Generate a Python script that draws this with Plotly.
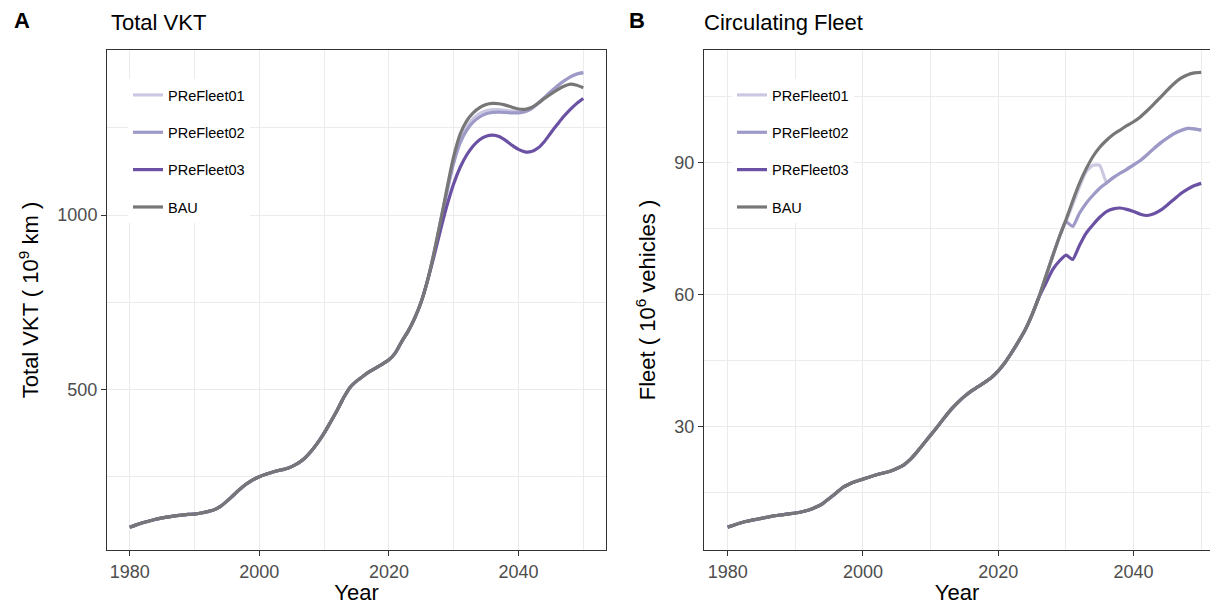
import plotly.graph_objects as go

years = list(range(1980, 2051))
series_names = ["PReFleet01", "PReFleet02", "PReFleet03", "BAU"]
series_colors = ["#CBC9E2", "#9E9AC8", "#6A51A3", "#777777"]

# ---- Panel A: Total VKT (10^9 km), 1980..2050 ----
vkt_bau = [105, 112, 118, 123, 128, 132, 135, 138, 140, 142,
           143, 146, 150, 155, 165, 180, 197, 214, 229, 241,
           250, 257, 263, 268, 272, 279, 289, 303, 323, 347,
           375, 407, 440, 476, 506, 524, 538, 551, 562, 573,
           585, 605, 638, 668, 705, 752, 815, 895, 985, 1080,
           1168, 1232, 1270, 1293, 1308, 1317, 1320, 1319, 1315, 1309,
           1304, 1303, 1308, 1320, 1334, 1347, 1359, 1369, 1375, 1372,
           1365]
vkt_p02 = vkt_bau[:49] + [1070,
           1150, 1207, 1243, 1266, 1281, 1290, 1294, 1295, 1294, 1293,
           1293, 1296, 1305, 1320, 1337, 1354, 1370, 1384, 1396, 1404,
           1408]
vkt_p01 = vkt_bau[:49] + [1072,
           1152, 1213, 1252, 1276, 1291, 1299, 1302, 1302, 1300, 1298,
           1297, 1298, 1305, 1320, 1337, 1354, 1370, 1384, 1396, 1404,
           1408]
vkt_p03 = vkt_bau[:47] + [885, 960, 1030,
           1090, 1137, 1172, 1198, 1216, 1226, 1229, 1225, 1214, 1200,
           1188, 1181, 1182, 1192, 1211, 1236, 1260, 1283, 1303, 1320,
           1334]

# ---- Panel B: Circulating fleet (10^6 vehicles), 1980..2050 ----
fleet_bau = [7.2, 7.7, 8.2, 8.6, 8.9, 9.2, 9.5, 9.8, 10.0, 10.2,
             10.4, 10.7, 11.1, 11.7, 12.5, 13.7, 14.9, 16.2, 17.0, 17.6,
             18.1, 18.6, 19.1, 19.5, 19.9, 20.5, 21.3, 22.6, 24.3, 26.2,
             28.1, 30.0, 32.0, 33.9, 35.5, 36.9, 38.1, 39.1, 40.1, 41.2,
             42.7, 44.6, 46.9, 49.4, 52.1, 55.5, 59.4, 64.0, 68.6, 73.0,
             77.0, 81.3, 85.3, 88.6, 91.4, 93.5, 95.1, 96.4, 97.4, 98.4,
             99.3, 100.4, 101.8, 103.3, 104.9, 106.5, 108.0, 109.2, 110.0, 110.4,
             110.5]
fleet_p02 = fleet_bau[:50] + [
             76.6, 75.5, 78.5, 80.8, 82.6, 84.2, 85.4, 86.6, 87.6, 88.5,
             89.5, 90.5, 91.8, 93.2, 94.5, 95.6, 96.6, 97.3, 97.8, 97.7,
             97.4]
fleet_p01 = fleet_bau[:50] + [
             76.6, 80.5, 84.5, 88.0, 89.4, 89.4, 85.6, 86.6, 87.6, 88.5,
             89.5, 90.5, 91.8, 93.2, 94.5, 95.6, 96.6, 97.3, 97.8, 97.7,
             97.4]
fleet_p03 = fleet_bau[:47] + [62.5, 65.6, 67.6,
             69.0, 68.0, 71.2, 74.0, 75.9, 77.6, 78.9, 79.5, 79.7, 79.4,
             78.9, 78.3, 78.0, 78.4, 79.2, 80.4, 81.7, 83.0, 84.0, 84.8,
             85.3]

vkt_series = [vkt_p01, vkt_p02, vkt_p03, vkt_bau]
fleet_series = [fleet_p01, fleet_p02, fleet_p03, fleet_bau]

FONT = "Liberation Sans, Arial, sans-serif"
W, H = 1210, 605

fig = go.Figure()
for name, col, ys in zip(series_names, series_colors, vkt_series):
    fig.add_trace(go.Scatter(x=years, y=ys, mode="lines", name=name,
                             line=dict(color=col, width=3.2, shape="spline", smoothing=0.8),
                             xaxis="x", yaxis="y", legend="legend",
                             legendgroup="A_" + name))
for name, col, ys in zip(series_names, series_colors, fleet_series):
    fig.add_trace(go.Scatter(x=years, y=ys, mode="lines", name=name,
                             line=dict(color=col, width=3.2, shape="spline", smoothing=0.5),
                             xaxis="x2", yaxis="y2", legend="legend2",
                             legendgroup="B_" + name))

def px_x(p):
    return p / W

def px_y(p):
    return 1 - p / H

grid = "#EBEBEB"
axcol = "#333333"
tickfont = dict(family=FONT, size=18, color="#4D4D4D")
titlefont = dict(family=FONT, size=22, color="black")

def xaxis(dom, rng, mirror=True):
    return dict(domain=dom, range=rng, tick0=1980, dtick=20,
                showgrid=True, gridcolor=grid, gridwidth=1.2,
                minor=dict(tick0=1980, dtick=10, showgrid=True,
                           gridcolor=grid, gridwidth=0.8),
                ticks="outside", ticklen=5, tickwidth=1, tickcolor=axcol,
                showline=True, linecolor=axcol, linewidth=1, mirror=mirror,
                zeroline=False, tickfont=tickfont,
                title=dict(text="Year", font=titlefont, standoff=6))

def yaxis(dom, rng, dt, title, anchor, mirror=True):
    return dict(domain=dom, range=rng, tick0=0, dtick=dt,
                showgrid=True, gridcolor=grid, gridwidth=1.2,
                minor=dict(tick0=0, dtick=dt / 2, showgrid=True,
                           gridcolor=grid, gridwidth=0.8),
                ticks="outside", ticklen=5, tickwidth=1, tickcolor=axcol,
                showline=True, linecolor=axcol, linewidth=1, mirror=mirror,
                zeroline=False, tickfont=tickfont, anchor=anchor,
                title=dict(text=title, font=titlefont, standoff=12))

ydom = [px_y(550), px_y(50)]
legfont = dict(family=FONT, size=14.5, color="black")
fig.update_layout(
    width=W, height=H,
    margin=dict(l=0, r=0, t=0, b=0),
    paper_bgcolor="white", plot_bgcolor="white",
    font=dict(family=FONT),
    xaxis=xaxis([px_x(107), px_x(606)], [1976.5, 2053.5]),
    yaxis=yaxis(ydom, [40, 1473], 500,
                "Total VKT ( 10<sup>9</sup> km )", "x"),
    xaxis2=dict(xaxis([px_x(704), 1.0], [1976.5, 2051.3]), anchor="y2"),
    yaxis2=yaxis(ydom, [2.0, 115.6], 30,
                 "Fleet ( 10<sup>6</sup> vehicles )", "x2", mirror=False),
    legend=dict(x=px_x(128), y=px_y(79), xanchor="left", yanchor="top",
                bgcolor="white", borderwidth=0, traceorder="grouped",
                tracegroupgap=15.5, font=legfont),
    legend2=dict(x=px_x(732), y=px_y(79), xanchor="left", yanchor="top",
                 bgcolor="white", borderwidth=0, traceorder="grouped",
                 tracegroupgap=15.5, font=legfont),
    annotations=[
        dict(text="<b>A</b>", x=px_x(12), y=px_y(21), xref="paper", yref="paper",
             xanchor="left", yanchor="middle", showarrow=False,
             font=dict(family=FONT, size=22, color="black")),
        dict(text="Total VKT", x=px_x(109), y=px_y(22), xref="paper", yref="paper",
             xanchor="left", yanchor="middle", showarrow=False,
             font=dict(family=FONT, size=22, color="black")),
        dict(text="<b>B</b>", x=px_x(627), y=px_y(21), xref="paper", yref="paper",
             xanchor="left", yanchor="middle", showarrow=False,
             font=dict(family=FONT, size=22, color="black")),
        dict(text="Circulating Fleet", x=px_x(702), y=px_y(22), xref="paper", yref="paper",
             xanchor="left", yanchor="middle", showarrow=False,
             font=dict(family=FONT, size=22, color="black")),
    ],
)
fig.layout.xaxis2.mirror = True

fig.write_html("out.html")
